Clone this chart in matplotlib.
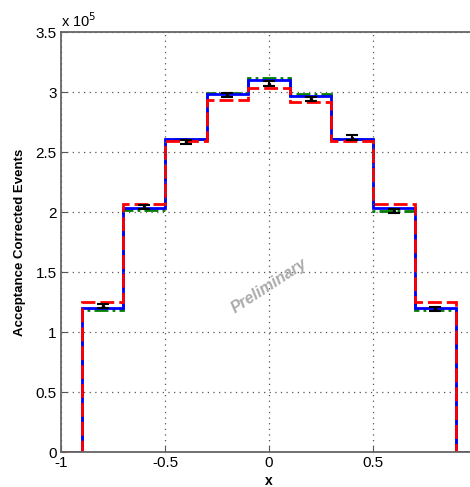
import numpy as np
import matplotlib
matplotlib.use("Agg")
import matplotlib.pyplot as plt
from matplotlib.ticker import FuncFormatter

plt.rcParams['font.family'] = ['Liberation Sans', 'DejaVu Sans']

# bin edges (outer bins are empty)
edges = [-1.0, -0.9, -0.7, -0.5, -0.3, -0.1, 0.1, 0.3, 0.5, 0.7, 0.9, 1.0]
# values in units of 1e5
blue_vals = [0, 1.197, 2.03, 2.605, 2.983, 3.10, 2.97, 2.605, 2.03, 1.197, 0]
green_vals = [0, 1.183, 2.016, 2.61, 2.994, 3.117, 2.98, 2.61, 2.01, 1.183, 0]
red_vals = [0, 1.253, 2.064, 2.595, 2.93, 3.03, 2.917, 2.595, 2.064, 1.253, 0]

# data points with error bars
pt_x = [-0.8, -0.6, -0.4, -0.2, 0.0, 0.2, 0.4, 0.6, 0.8]
pt_y = [1.215, 2.04, 2.585, 2.975, 3.07, 2.94, 2.62, 2.01, 1.195]
pt_err = [0.018, 0.017, 0.018, 0.018, 0.02, 0.018, 0.02, 0.017, 0.016]

yticks = [0, 0.5, 1, 1.5, 2, 2.5, 3, 3.5]
xticks = [-1, -0.5, 0, 0.5]

fig = plt.figure(figsize=(4.70, 4.87), dpi=100)
ax = fig.add_axes([61/470, 35/487, 416/470, 420/487])

ax.stairs(green_vals, edges, color="#008000", lw=2, linestyle=(0, (5, 1.5, 1, 1.5)))
ax.stairs(blue_vals, edges, color="#0000ff", lw=2, linestyle="-")
ax.stairs(red_vals, edges, color="#ff0000", lw=2, linestyle=(0, (5, 1.8)))
ax.errorbar(pt_x, pt_y, yerr=pt_err, fmt=".", color="black", ms=3,
            elinewidth=1.5, capsize=4, capthick=1.5)

ax.set_xlim(-1, 1)
ax.set_ylim(0, 3.5)
ax.set_xticks(xticks)
ax.set_yticks(yticks)
ax.yaxis.set_major_formatter(FuncFormatter(lambda v, p: "%g" % v))
ax.xaxis.set_major_formatter(FuncFormatter(lambda v, p: "%g" % v))
ax.tick_params(direction="in", labelsize=11, length=4, color="#555555", pad=3)
ax.grid(True, linestyle=(0, (1, 3.5)), color="#555555", lw=0.9)
for s in ax.spines.values():
    s.set_color("#666666")
    s.set_linewidth(1.3)

ax.set_xlabel("x", fontsize=10, fontweight="bold", labelpad=3)
ax.set_ylabel("Acceptance Corrected Events", fontsize=9.5, fontweight="bold", labelpad=7)
ax.text(0.0, 1.005, "x 10$^5$", transform=ax.transAxes, fontsize=10.5,
        ha="left", va="bottom")
ax.text(0.0, 1.38, "Preliminary", fontsize=11.5, fontweight="bold", style="italic",
        color="#aaaaaa", rotation=33, ha="center", va="center")

fig.savefig("out.png", dpi=100)
